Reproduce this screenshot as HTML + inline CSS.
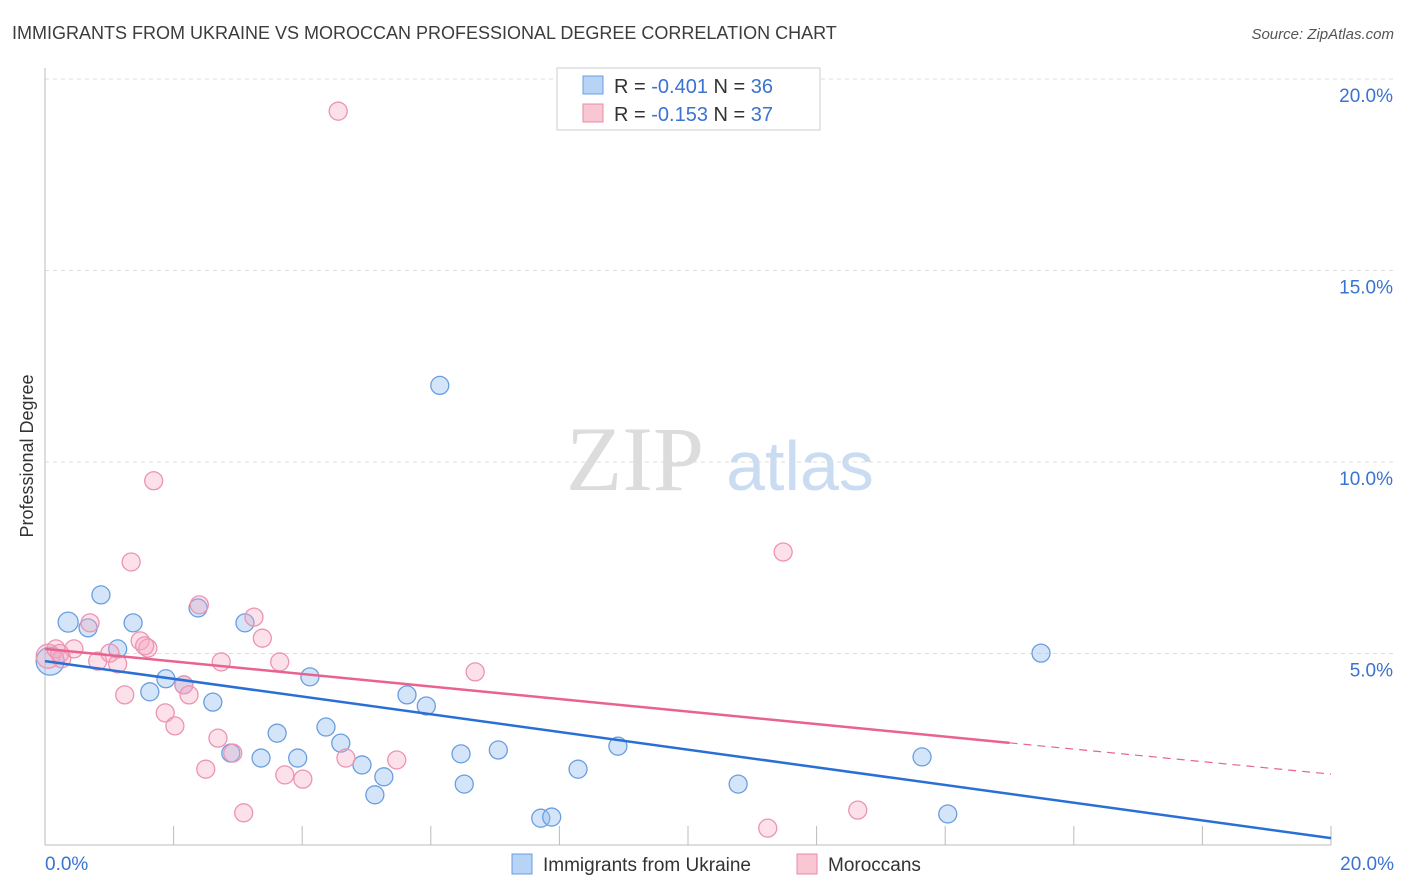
<!DOCTYPE html>
<html><head><meta charset="utf-8"><style>
body{margin:0;background:#fff;font-family:"Liberation Sans",sans-serif;}
svg{display:block}
</style></head><body>
<svg id="chart" width="1406" height="892" xmlns="http://www.w3.org/2000/svg" font-family="Liberation Sans, sans-serif">
<text x="12" y="39" font-size="18" fill="#3c3c3c">IMMIGRANTS FROM UKRAINE VS MOROCCAN PROFESSIONAL DEGREE CORRELATION CHART</text>
<text x="1394" y="39" font-size="15" font-style="italic" fill="#555" text-anchor="end">Source: ZipAtlas.com</text>
<text transform="translate(33,456) rotate(-90)" font-size="18" fill="#333" text-anchor="middle">Professional Degree</text>
<g><text x="635" y="490" font-size="92" font-family="Liberation Serif, serif" fill="#dcdcdc" text-anchor="middle">ZIP</text><text x="800" y="490" font-size="70" fill="#c9dcf2" text-anchor="middle">atlas</text></g>
<g id="grid"></g><g id="axes"></g><g id="pts"></g><g id="lines"></g>
<g>
<rect x="557" y="68" width="263" height="62" fill="#fff" stroke="#ccc"/>
<rect x="583" y="76" width="20" height="18" fill="#b7d3f5" stroke="#6a9ee0"/>
<rect x="583" y="104" width="20" height="18" fill="#f9c6d4" stroke="#e98aa6"/>
<text x="614" y="93" font-size="20" fill="#333">R = <tspan fill="#3a73d0">-0.401</tspan>   N = <tspan fill="#3a73d0">36</tspan></text>
<text x="614" y="121" font-size="20" fill="#333">R =  <tspan fill="#3a73d0">-0.153</tspan>   N = <tspan fill="#3a73d0">37</tspan></text>
</g>
<g>
<rect x="512" y="854" width="20" height="20" fill="#b7d3f5" stroke="#6a9ee0"/>
<text x="543" y="871" font-size="19" fill="#333">Immigrants from Ukraine</text>
<rect x="797" y="854" width="20" height="20" fill="#f9c6d4" stroke="#e98aa6"/>
<text x="828" y="871" font-size="19" fill="#333">Moroccans</text>
</g>
</svg>
<script>
const blueX=[0.08,0.36,0.67,0.87,1.13,1.37,1.63,1.88,2.16,2.38,2.61,2.89,3.11,3.36,3.61,3.93,4.12,4.37,4.6,4.93,5.13,5.27,5.63,5.93,6.14,6.47,6.52,7.05,7.71,7.88,8.29,8.91,10.78,13.64,14.04,15.49];
const blueY=[4.80,5.82,5.67,6.53,5.12,5.80,4.00,4.34,4.18,6.19,3.73,2.40,5.80,2.27,2.92,2.27,4.39,3.08,2.66,2.09,1.31,1.78,3.92,3.63,12.00,2.38,1.59,2.48,0.70,0.73,1.98,2.58,1.59,2.30,0.81,5.01];
const blueR=[14,10,9,9,9,9,9,9,9,9,9,9,9,9,9,9,9,9,9,9,9,9,9,9,9,9,9,9,9,9,9,9,9,9,9,9];
const pinkX=[0.05,0.17,0.26,0.45,0.7,0.82,1.01,1.13,1.24,1.34,1.48,1.6,1.69,1.87,2.02,2.16,2.24,2.4,2.5,2.69,2.74,2.92,3.09,3.25,3.38,3.65,3.73,4.01,4.56,4.68,5.47,6.69,11.24,11.48,12.64,1.55,0.23];
const pinkY=[4.93,5.12,4.86,5.12,5.80,4.80,5.01,4.73,3.92,7.39,5.33,5.14,9.51,3.45,3.11,4.18,3.92,6.27,1.98,2.79,4.78,2.40,0.84,5.95,5.40,4.78,1.83,1.72,19.16,2.27,2.22,4.52,0.44,7.65,0.91,5.2,5.0];
const pinkR=[12,9,9,9,9,9,9,9,9,9,9,9,9,9,9,9,9,9,9,9,9,9,9,9,9,9,9,9,9,9,9,9,9,9,9,9,9];
const yTicks=[5,10,15,20];
const xTickLabels=["0.0%","20.0%"];
const trendBlue=[4.80,0.18], trendPink=[5.12,1.85], pinkSolidEnd=15.0;
const NS="http://www.w3.org/2000/svg";
const sx=v=>45+v*64.3, sy=v=>845-v*38.3;
function mk(p,t,a){const e=document.createElementNS(NS,t);for(const k in a)e.setAttribute(k,a[k]);p.appendChild(e);return e;}
const grid=document.getElementById('grid'),axes=document.getElementById('axes'),pts=document.getElementById('pts'),lines=document.getElementById('lines');
yTicks.forEach(t=>{
 const l=mk(grid,'line',{x1:45,x2:1394,y1:sy(t),y2:sy(t),stroke:'#ddd','stroke-dasharray':'4,4'});
 
 
 const tx=mk(grid,'text',{x:1393,y:sy(t)+23,'font-size':19,fill:'#3a73d0','text-anchor':'end'});
 tx.textContent=t.toFixed(1)+'%';
 
 
});
const ya=mk(axes,'line',{x1:45,x2:45,y1:68,y2:845,stroke:'#bbb'});


const xa=mk(axes,'line',{x1:45,x2:1331,y1:845,y2:845,stroke:'#bbb'});


for(let i=1;i<=10;i++){const t=mk(axes,'line',{x1:sx(i*2),x2:sx(i*2),y1:826,y2:845,stroke:'#bbb'});
 
 }
[[0,'start',45],[20,'end',1394]].forEach((d,i)=>{const t=mk(axes,'text',{x:d[2],y:870,'font-size':19,fill:'#3a73d0','text-anchor':d[1]});t.textContent=xTickLabels[i];
 
 });
blueX.forEach((x,i)=>{const c=mk(pts,'circle',{cx:sx(x),cy:sy(blueY[i]),r:blueR[i],fill:'rgba(150,190,240,0.4)',stroke:'#6a9ee0','stroke-width':1.3});
 
 });
pinkX.forEach((x,i)=>{const c=mk(pts,'circle',{cx:sx(x),cy:sy(pinkY[i]),r:pinkR[i],fill:'rgba(245,170,195,0.35)',stroke:'#ec94b0','stroke-width':1.3});
 
 });
const lb=mk(lines,'line',{x1:sx(0),y1:sy(trendBlue[0]),x2:sx(20),y2:sy(trendBlue[1]),stroke:'#2a6fd6','stroke-width':2.5});


const py=x=>trendPink[0]+(trendPink[1]-trendPink[0])*x/20;
const lp=mk(lines,'line',{x1:sx(0),y1:sy(py(0)),x2:sx(pinkSolidEnd),y2:sy(py(pinkSolidEnd)),stroke:'#e8638e','stroke-width':2.5});


const ld=mk(lines,'line',{x1:sx(pinkSolidEnd),y1:sy(py(pinkSolidEnd)),x2:sx(20),y2:sy(py(20)),stroke:'#e8638e','stroke-width':1.2,'stroke-dasharray':'8,6'});


</script>
</body></html>
